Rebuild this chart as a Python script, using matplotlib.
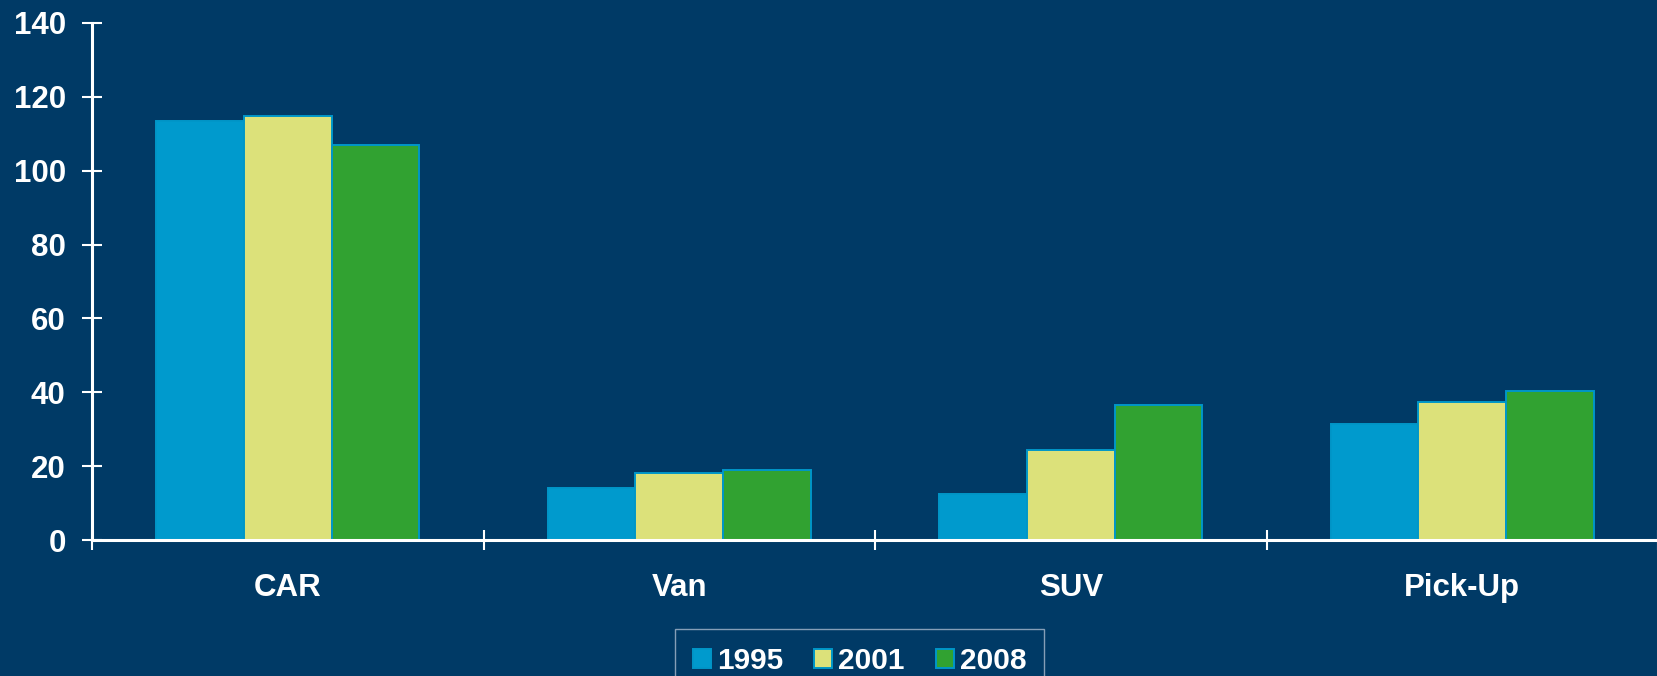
import matplotlib.pyplot as plt
import numpy as np

# Data
categories = ['CAR', 'Van', 'SUV', 'Pick-Up']
years = ['1995', '2001', '2008']
v1995 = [113.5, 14.0, 12.4, 31.4]
v2001 = [114.7, 18.2, 24.4, 37.4]
v2008 = [106.9, 18.9, 36.6, 40.3]

bg = '#003a66'
colors = ['#009acd', '#dce17a', '#31a231']
edge = '#0096c8'

plt.rcParams['font.family'] = ['Liberation Sans', 'DejaVu Sans']
plt.rcParams['font.weight'] = 'bold'

fig = plt.figure(figsize=(16.58, 6.76), dpi=100, facecolor=bg)
ax = fig.add_axes([0.0555, 0.201, 0.9445, 0.765])
ax.set_facecolor(bg)

x = np.arange(len(categories))
w = 0.224
series = [v1995, v2001, v2008]
for i, vals in enumerate(series):
    ax.bar(x + (i - 1) * w, vals, w, color=colors[i], edgecolor=edge,
           linewidth=1.4, label=years[i])

ax.set_xlim(-0.5, 3.5)
ax.set_ylim(0, 140)
ax.set_yticks(range(0, 141, 20))

# boundary ticks (major, no labels) and category labels (minor)
ax.set_xticks(np.arange(-0.5, 4, 1))
ax.set_xticklabels([])
ax.set_xticks(x, categories, minor=True)
ax.tick_params(axis='x', which='major', direction='inout', length=14,
               width=1.5, color='white')
ax.tick_params(axis='x', which='minor', length=0, pad=24,
               labelsize=22.5, labelcolor='white')
ax.tick_params(axis='y', direction='inout', length=14, width=1.5,
               color='white', labelsize=22.5, labelcolor='white', pad=12)

for s in ['top', 'right']:
    ax.spines[s].set_visible(False)
for s in ['left', 'bottom']:
    ax.spines[s].set_color('white')
    ax.spines[s].set_linewidth(2.2)

leg = fig.legend(loc='upper center', bbox_to_anchor=(0.5185, 0.0695), ncol=3,
                 fontsize=21.5, frameon=True, fancybox=False,
                 facecolor=bg, edgecolor='#a8b8cc', labelcolor='white',
                 handlelength=0.6, handleheight=0.6, handletextpad=0.2,
                 columnspacing=1.05, borderpad=0.6, borderaxespad=0)
leg.get_frame().set_linewidth(1.0)

fig.savefig('out.png', dpi=100, facecolor=bg)
